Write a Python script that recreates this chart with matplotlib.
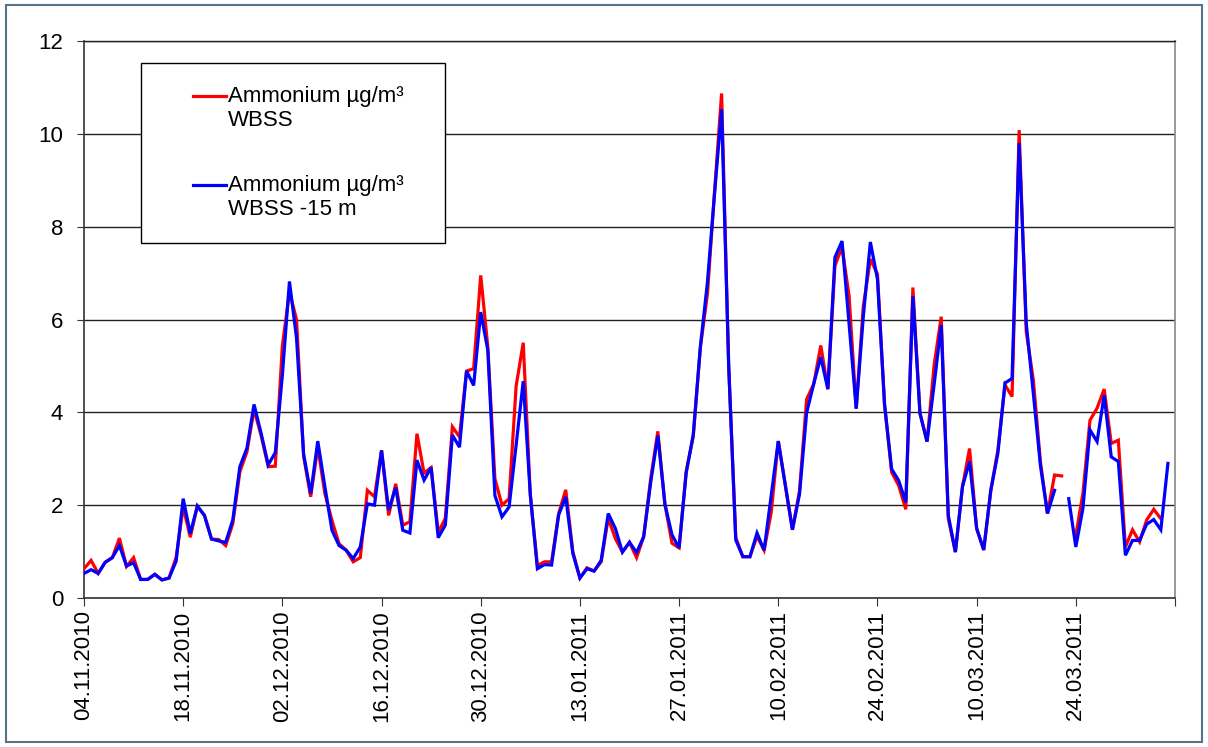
import numpy as np
import pandas as pd
import matplotlib
matplotlib.use("Agg")
import matplotlib.pyplot as plt
from matplotlib.lines import Line2D
from matplotlib.patches import Rectangle

plt.rcParams['font.family'] = ['Liberation Sans', 'DejaVu Sans']

# Tägliche Messwerte ab 04.11.2010
start = "2010-11-04"
label_red = "Ammonium µg/m³\nWBSS"
label_blue = "Ammonium µg/m³\nWBSS -15 m"

wbss = [
    0.63, 0.81, 0.53, 0.77, 0.87, 1.29, 0.68, 0.87, 0.40, 0.40,
    0.51, 0.39, 0.43, 0.87, 1.96, 1.31, 1.98, 1.78, 1.27, 1.26,
    1.13, 1.60, 2.72, 3.15, 4.06, 3.50, 2.83, 2.84, 5.43, 6.60,
    6.00, 3.05, 2.18, 3.25, 2.25, 1.67, 1.17, 1.03, 0.78, 0.87,
    2.32, 2.18, 3.18, 1.78, 2.46, 1.57, 1.64, 3.54, 2.69, 2.81,
    1.42, 1.71, 3.69, 3.47, 4.89, 4.94, 6.95, 5.41, 2.57, 2.00,
    2.14, 4.57, 5.50, 2.22, 0.70, 0.78, 0.78, 1.82, 2.33, 1.00,
    0.43, 0.65, 0.58, 0.78, 1.72, 1.28, 0.99, 1.20, 0.87, 1.32,
    2.58, 3.59, 2.02, 1.18, 1.08, 2.73, 3.48, 5.39, 6.55, 8.75,
    10.87, 5.00, 1.30, 0.89, 0.89, 1.33, 1.03, 1.84, 3.38, 2.42,
    1.47, 2.31, 4.28, 4.61, 5.44, 4.50, 7.16, 7.56, 6.50, 4.08,
    6.28, 7.30, 6.98, 4.17, 2.71, 2.42, 1.91, 6.69, 3.98, 3.37,
    5.02, 6.06, 1.71, 0.99, 2.40, 3.22, 1.50, 1.03, 2.32, 3.19,
    4.59, 4.34, 10.08, 5.74, 4.70, 2.94, 1.82, 2.65, 2.63, np.nan,
    1.35, 2.25, 3.83, 4.09, 4.50, 3.33, 3.40, 1.10, 1.47, 1.21,
    1.68, 1.91, 1.71, np.nan,
]

wbss_15m = [
    0.53, 0.61, 0.53, 0.77, 0.87, 1.13, 0.69, 0.76, 0.40, 0.40,
    0.51, 0.39, 0.43, 0.79, 2.14, 1.39, 1.98, 1.78, 1.27, 1.23,
    1.20, 1.68, 2.83, 3.23, 4.17, 3.55, 2.87, 3.13, 4.80, 6.82,
    5.60, 3.10, 2.25, 3.38, 2.40, 1.46, 1.13, 1.03, 0.85, 1.10,
    2.03, 2.00, 3.18, 1.89, 2.38, 1.46, 1.40, 2.97, 2.54, 2.81,
    1.30, 1.57, 3.51, 3.25, 4.89, 4.58, 6.16, 5.34, 2.21, 1.75,
    1.96, 3.30, 4.67, 2.22, 0.63, 0.72, 0.71, 1.79, 2.18, 0.96,
    0.43, 0.63, 0.58, 0.81, 1.82, 1.50, 0.99, 1.20, 0.98, 1.32,
    2.50, 3.50, 2.02, 1.36, 1.08, 2.69, 3.52, 5.41, 6.80, 8.70,
    10.53, 5.00, 1.25, 0.89, 0.89, 1.40, 1.03, 2.20, 3.38, 2.42,
    1.47, 2.24, 3.99, 4.61, 5.19, 4.50, 7.34, 7.69, 5.90, 4.08,
    6.06, 7.67, 6.87, 4.17, 2.78, 2.53, 2.06, 6.50, 3.98, 3.37,
    4.60, 5.88, 1.78, 0.99, 2.40, 2.94, 1.50, 1.04, 2.32, 3.12,
    4.63, 4.73, 9.80, 5.92, 4.41, 2.86, 1.82, 2.32, np.nan, 2.14,
    1.10, 1.93, 3.62, 3.37, 4.37, 3.04, 2.94, 0.92, 1.24, 1.24,
    1.59, 1.69, 1.47, 2.90,
]

dates = pd.date_range(start, periods=len(wbss), freq="D")
ticks = pd.date_range(start, "2011-04-07", freq="14D")
tick_labels = [t.strftime("%d.%m.%Y") for t in ticks[:-1]] + [""]

fig = plt.figure(figsize=(12.08, 7.47), dpi=100)
W, H = 1208, 747
ax = fig.add_axes([84 / W, 1 - 598 / H, (1175 - 84) / W, (598 - 41) / H])

ax.plot(dates, wbss, color="#FF0000", lw=2.3, solid_joinstyle="miter", zorder=3)
ax.plot(dates, wbss_15m, color="#0000FF", lw=2.3, solid_joinstyle="miter", zorder=4)

ax.set_xlim(ticks[0], ticks[-1])
ax.set_ylim(0, 12)
ax.set_yticks(np.arange(0, 13, 2))
ax.set_xticks(ticks)
ax.set_xticklabels(tick_labels, rotation=90, ha="center", va="top")

ax.yaxis.grid(True, color="#222222", lw=1.0)
ax.set_axisbelow(True)
ax.tick_params(axis="both", labelsize=16, direction="out", color="#333333")
ax.tick_params(axis="y", length=5, pad=10)
ax.tick_params(axis="x", length=6, pad=3)

for side in ("left", "bottom"):
    ax.spines[side].set_color("#333333")
    ax.spines[side].set_linewidth(1.2)
ax.spines["right"].set_color("#888888")
ax.spines["right"].set_linewidth(1.2)
ax.spines["top"].set_color("#222222")
ax.spines["top"].set_linewidth(1.0)

# Legende als eigener Kasten
def px(x, y):
    return x / W, 1 - y / H

bx, by = px(141, 243)
fig.patches.append(Rectangle((bx, by), (445 - 141) / W, (243 - 63) / H,
                             transform=fig.transFigure, facecolor="white",
                             edgecolor="black", lw=1.0, zorder=5))
for y_line, y_text, color, label in [(96, 86, "#FF0000", label_red),
                                     (185, 175, "#0000FF", label_blue)]:
    x0, y0 = px(193, y_line)
    x1, _ = px(226, y_line)
    fig.add_artist(Line2D([x0, x1], [y0, y0], color=color, lw=2.3,
                          transform=fig.transFigure, zorder=6))
    tx, ty = px(228, y_text)
    fig.text(tx, ty, label, fontsize=16, ha="left", va="top",
             linespacing=1.2, zorder=6)

# Rahmen um das gesamte Diagramm
fig.patches.append(Rectangle((6 / W, 5 / H), (1202 - 6) / W, (742 - 5) / H,
                             transform=fig.transFigure, facecolor="none",
                             edgecolor="#56738a", lw=1.5, zorder=1))

fig.savefig("out.png", dpi=100, facecolor="white")
